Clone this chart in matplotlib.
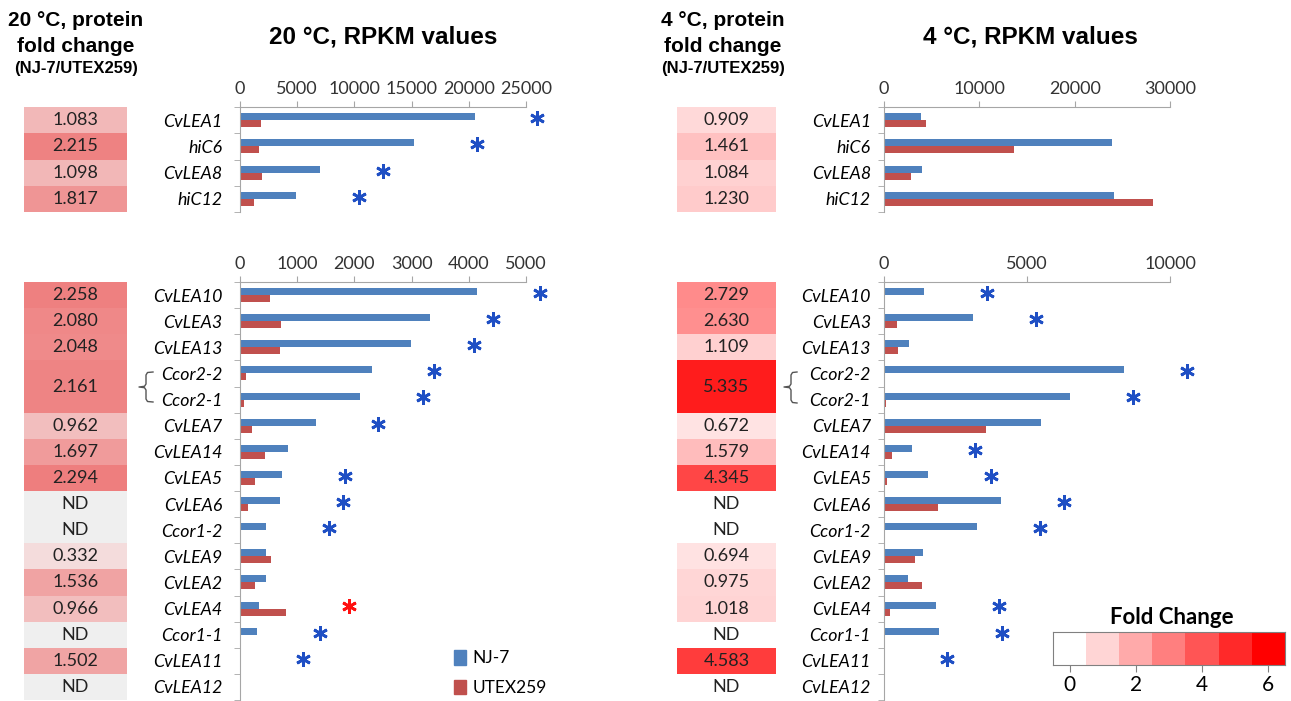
import numpy as np
import matplotlib
matplotlib.use('Agg')
import matplotlib.pyplot as plt
from matplotlib.colors import LinearSegmentedColormap, Normalize
from matplotlib.patches import Patch
from matplotlib.lines import Line2D

W, H = 1291, 701

genes_top = ['CvLEA1', 'hiC6', 'CvLEA8', 'hiC12']
genes_bot = ['CvLEA10', 'CvLEA3', 'CvLEA13', 'Ccor2-2', 'Ccor2-1', 'CvLEA7', 'CvLEA14',
             'CvLEA5', 'CvLEA6', 'Ccor1-2', 'CvLEA9', 'CvLEA2', 'CvLEA4', 'Ccor1-1',
             'CvLEA11', 'CvLEA12']

# RPKM at 20 C
nj7_20_top = [20500, 15200, 7000, 4900]
utex_20_top = [1850, 1650, 1950, 1200]
nj7_20_bot = [4140, 3330, 2990, 2300, 2100, 1320, 840, 740, 700, 460, 450, 450, 330, 300, 10, 0]
utex_20_bot = [530, 710, 700, 110, 70, 210, 440, 260, 140, 0, 540, 260, 810, 0, 0, 0]
sig_20_top = ['b', 'b', 'b', 'b']
sig_20_bot = ['b', 'b', 'b', 'b', 'b', 'b', '', 'b', 'b', 'b', '', '', 'r', 'b', 'b', '']

# RPKM at 4 C
nj7_4_top = [3850, 23950, 3990, 24080]
utex_4_top = [4450, 13600, 2870, 28250]
nj7_4_bot = [1410, 3100, 870, 8400, 6500, 5480, 980, 1540, 4100, 3260, 1350, 850, 1810, 1940, 0, 0]
utex_4_bot = [0, 455, 500, 0, 70, 3550, 280, 90, 1900, 0, 1090, 1320, 220, 0, 0, 0]
sig_4_top = ['', '', '', '']
sig_4_bot = ['b', 'b', '', 'b', 'b', '', 'b', 'b', 'b', 'b', '', '', 'b', 'b', 'b', '']

# protein fold change NJ-7/UTEX259, None = ND (Ccor2-2/Ccor2-1 share one value)
fc_20_top = [1.083, 2.215, 1.098, 1.817]
fc_20_bot = [2.258, 2.080, 2.048, 2.161, 2.161, 0.962, 1.697, 2.294, None, None,
             0.332, 1.536, 0.966, None, 1.502, None]
fc_4_top = [0.909, 1.461, 1.084, 1.230]
fc_4_bot = [2.729, 2.630, 1.109, 5.335, 5.335, 0.672, 1.579, 4.345, None, None,
            0.694, 0.975, 1.018, None, 4.583, None]

scale_vals = [0, 1, 2, 3, 4, 5, 6]
scale_ticks = [0, 2, 4, 6]

BLUE = '#4F81BD'
RED = '#C0504D'
GRAY = '#A6A6A6'
STAR = {'b': '#1F4FC4', 'r': '#FF1010'}
FONT = 'Lato'
BOLD = 'Liberation Sans'

cmap_20 = LinearSegmentedColormap.from_list('c20', ['#F5ECEC', '#EE7E7E'])
norm_20 = Normalize(0, 2.3)
cmap_4 = LinearSegmentedColormap.from_list('c4', ['#FFFFFF', '#FF0000'])
norm_4 = Normalize(0, 6)

fig = plt.figure(figsize=(W / 100, H / 100), dpi=100)


def rect(x0, y0, x1, y1):
    return [x0 / W, 1 - y1 / H, (x1 - x0) / W, (y1 - y0) / H]


def ftext(x, y, s, **kw):
    fig.text(x / W, 1 - y / H, s, **kw)


def bar_panel(box, genes, nj, ut, sig, xmax, step, pad):
    ax = fig.add_axes(rect(*box))
    n = len(genes)
    y = np.arange(n)
    h = 0.27
    ax.barh(y - h / 2, nj, height=h, color=BLUE, label='NJ-7')
    ax.barh(y + h / 2, ut, height=h, color=RED, label='UTEX259')
    for i, s in enumerate(sig):
        if s:
            ax.plot(max(nj[i], ut[i]) + 0.22 * xmax, i - 0.08, marker=(6, 2, 0),
                    ms=10.5, mew=2.0, color=STAR[s], clip_on=False)
    ax.set_xlim(0, xmax)
    ax.set_ylim(n - 0.5, -0.5)
    ax.xaxis.tick_top()
    ax.set_xticks(np.arange(0, xmax + 1, step))
    ax.set_xticklabels([str(v) for v in np.arange(0, xmax + 1, step)], fontfamily=FONT,
                       fontsize=13, color='#333333')
    ax.set_yticks(y)
    ax.set_yticklabels(genes, fontfamily=FONT, fontstyle='italic', fontsize=12.8)
    ax.set_yticks(np.arange(n + 1) - 0.5, minor=True)
    ax.tick_params(axis='y', which='major', length=0, pad=pad)
    ax.tick_params(axis='y', which='minor', length=4.5, direction='out', color=GRAY)
    ax.tick_params(axis='x', length=4.5, direction='out', color=GRAY, pad=3)
    for s in ['right', 'bottom']:
        ax.spines[s].set_visible(False)
    for s in ['top', 'left']:
        ax.spines[s].set_color(GRAY)
    ax.set_facecolor('none')
    return ax


def heat_panel(box, vals, cmap, norm, nd_color):
    ax = fig.add_axes(rect(*box))
    n = len(vals)
    ax.set_xlim(0, 1)
    ax.set_ylim(n - 0.5, -0.5)
    ax.axis('off')
    i = 0
    while i < n:
        v = vals[i]
        span = 2 if (v is not None and i + 1 < n and vals[i + 1] == v) else 1
        yc = i - 0.5 + span / 2
        if v is None:
            if nd_color:
                ax.barh(yc, 1, height=span, color=nd_color)
            label = 'ND'
        else:
            ax.barh(yc, 1, height=span, color=cmap(norm(v)))
            label = f'{v:.3f}'
        ax.text(0.5, yc, label, ha='center', va='center', fontfamily=FONT,
                fontsize=13, color='#222222')
        i += span
    return ax


def brace(xn, xv, xh, y0, ym, y1):
    r = 3
    xs = [xh, xv + 1.5, xv, xv, xv - 1.5, xn, xv - 1.5, xv, xv, xv + 1.5, xh]
    ys = [y0, y0 + 0.5, y0 + r, ym - r, ym - 0.7, ym, ym + 0.7, ym + r, y1 - r, y1 - 0.5, y1]
    fig.add_artist(Line2D(np.array(xs) / W, 1 - np.array(ys) / H, color='#555555',
                          lw=1, transform=fig.transFigure))


top_y = (107, 212)
bot_y = (282, 700)

# 20 C side
heat_panel((24, top_y[0], 127, top_y[1]), fc_20_top, cmap_20, norm_20, '#EFEFEF')
heat_panel((24, bot_y[0], 127, bot_y[1]), fc_20_bot, cmap_20, norm_20, '#EFEFEF')
bar_panel((240, top_y[0], 526, top_y[1]), genes_top, nj7_20_top, utex_20_top, sig_20_top,
          25000, 5000, 12.5)
ax20b = bar_panel((240, bot_y[0], 526, bot_y[1]), genes_bot, nj7_20_bot, utex_20_bot,
                  sig_20_bot, 5000, 1000, 12.5)

# 4 C side
heat_panel((677, top_y[0], 776, top_y[1]), fc_4_top, cmap_4, norm_4, None)
heat_panel((677, bot_y[0], 776, bot_y[1]), fc_4_bot, cmap_4, norm_4, None)
bar_panel((884, top_y[0], 1170, top_y[1]), genes_top, nj7_4_top, utex_4_top, sig_4_top,
          30000, 10000, 9.5)
bar_panel((884, bot_y[0], 1170, bot_y[1]), genes_bot, nj7_4_bot, utex_4_bot, sig_4_bot,
          10000, 5000, 9.5)

brace(139, 146, 153, 372, 387, 402)
brace(784, 791, 797, 372, 387, 403)

# titles and headers
hkw = dict(ha='center', va='center', fontfamily=BOLD, fontweight='bold')
ftext(383, 37, '20 °C, RPKM values', fontsize=17.5, **hkw)
ftext(1030, 37, '4 °C, RPKM values', fontsize=17.5, **hkw)
for xc, t in [(76, '20 °C, protein'), (723, '4 °C, protein')]:
    ftext(xc, 21, t, fontsize=15, **hkw)
    ftext(xc, 46, 'fold change', fontsize=15, **hkw)
    ftext(xc, 68, '(NJ-7/UTEX259)', fontsize=12, **hkw)

# legend
ax20b.legend(handles=[Patch(color=BLUE, label='NJ-7'), Patch(color=RED, label='UTEX259')],
             loc='center left', bbox_to_anchor=(454 / W, 1 - 673 / H),
             bbox_transform=fig.transFigure, frameon=False, prop={'family': FONT, 'size': 12.5},
             handlelength=0.7, handleheight=0.9, handletextpad=0.35, labelspacing=0.75,
             borderpad=0, borderaxespad=0)

# discrete fold change scale
cax = fig.add_axes(rect(1053, 632, 1285, 665))
cax.imshow(np.array(scale_vals)[None, :], cmap=cmap_4, norm=norm_4, aspect='auto',
           extent=(-0.5, 6.5, 0, 1))
cax.set_yticks([])
cax.set_xticks(scale_ticks)
cax.set_xticklabels([str(v) for v in scale_ticks], fontfamily=FONT, fontsize=15)
cax.tick_params(axis='x', length=5, color='#808080', pad=2)
for s in cax.spines.values():
    s.set_color('#808080')
ftext(1172, 617, 'Fold Change', ha='center', va='center', fontfamily=FONT,
      fontweight='bold', fontsize=16)

fig.savefig('out.png', dpi=100)
